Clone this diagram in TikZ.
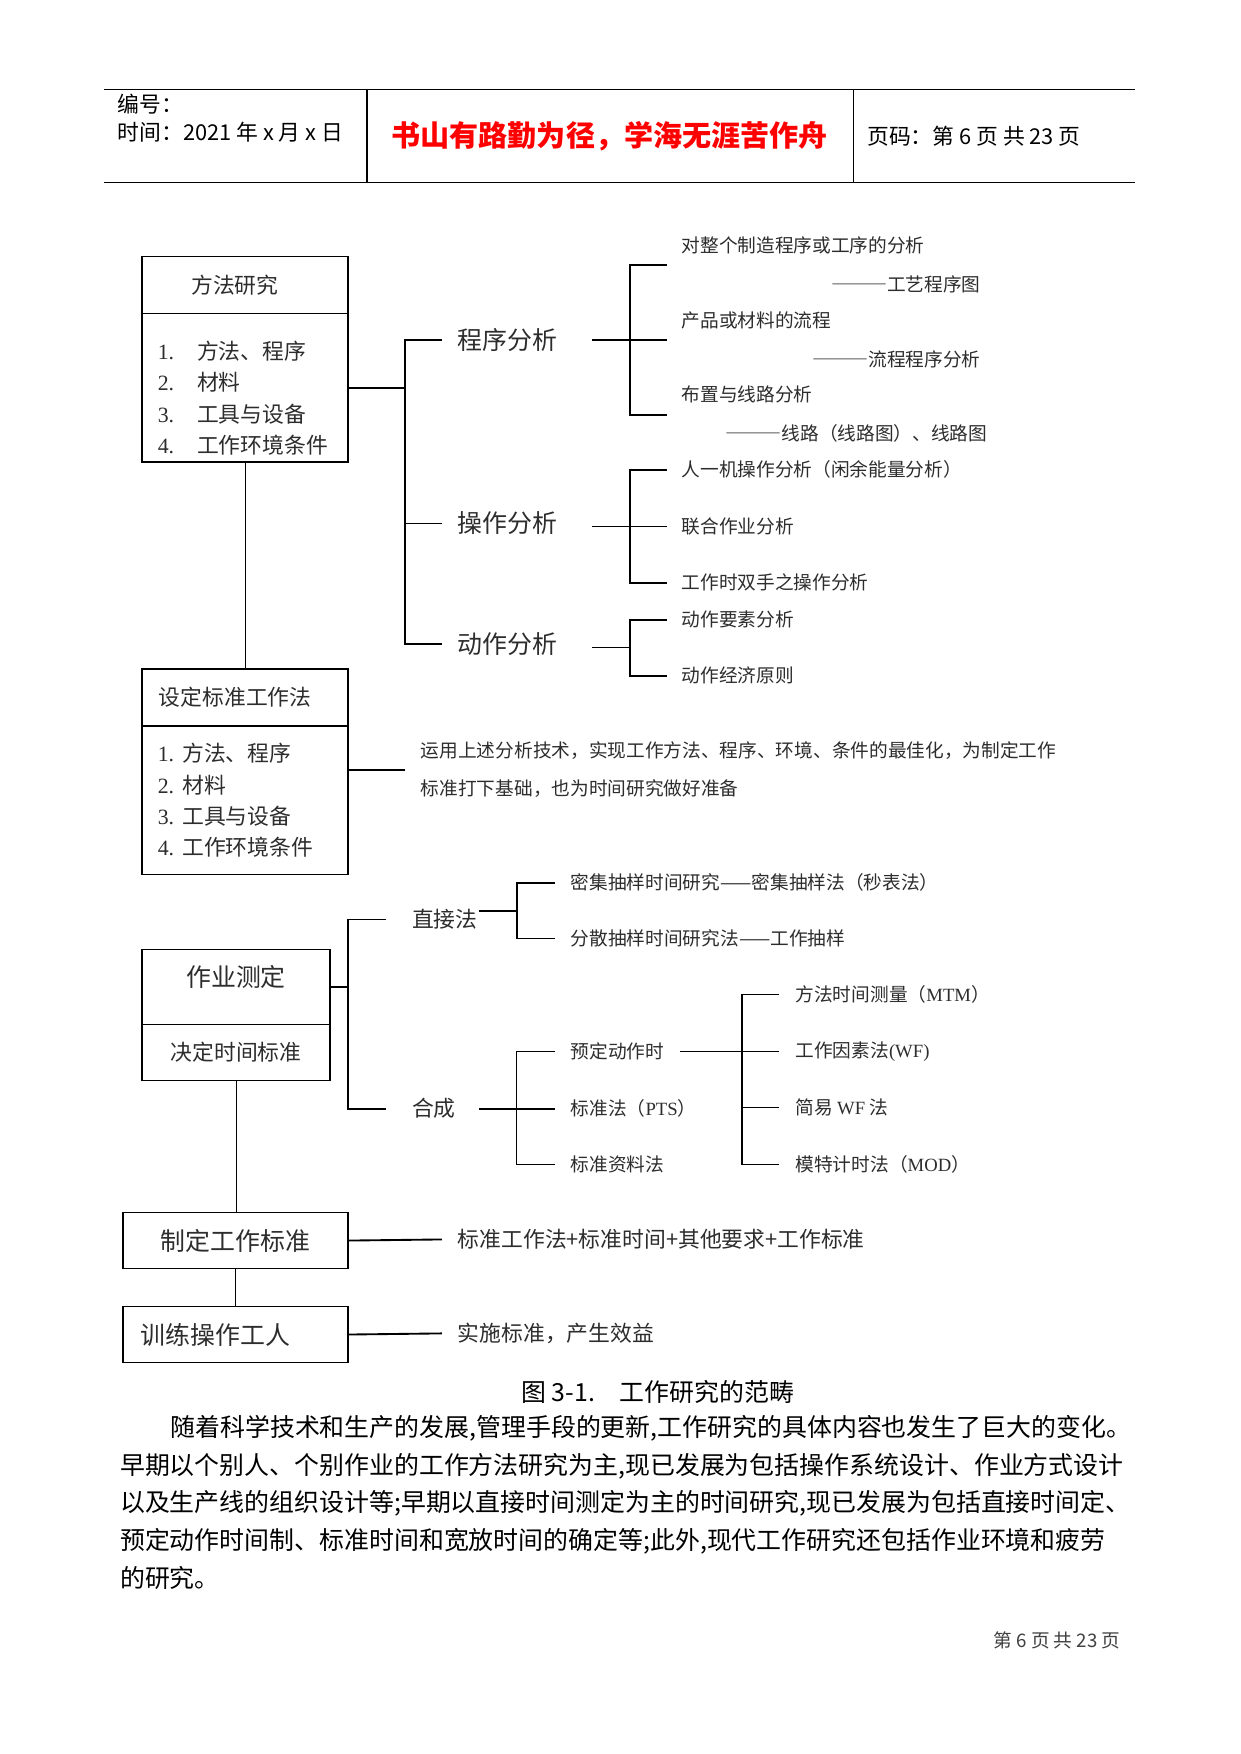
\documentclass[tikz,border=0pt]{standalone}
\usepackage{fontspec}
\setmainfont{Noto Sans CJK SC}
\newfontfamily\tnr{Liberation Serif}
\usetikzlibrary{calc}
\definecolor{titlered}{RGB}{255,0,0}
\definecolor{inkgray}{RGB}{45,45,45}
\newcommand\fnine{\fontsize{9pt}{11pt}\selectfont}
\newcommand\ften{\fontsize{10.5pt}{15pt}\selectfont}
\newcommand\ftwelve{\fontsize{12pt}{14pt}\selectfont}
\newcommand\ffourteen{\fontsize{14pt}{16pt}\selectfont}
\newcommand\itemno[2][18.9pt]{\makebox[#1][l]{\tnr #2}}
\newcommand\longdash{{\addfontfeatures{CharacterWidth=Full}———}}

\begin{document}
\begin{tikzpicture}[x=0.18936mm, y=-0.18936mm,
    box/.style={draw, line width=0.6pt, inner sep=0pt},
    conn/.style={line width=0.9pt},
    fine/.style={line width=0.45pt},
    lbl/.style={anchor=west, inner xsep=#1, inner ysep=0pt},
    lbl/.default=7.5pt]
    % page
    \fill[white] (0,0) rectangle (1109,1568);

    % header table
    \draw[fine] (93,80) -- (1015,80);
    \draw[fine] (93,163) -- (1015,163);
    \draw[line width=1pt] (328,80) -- (328,163);
    \draw[fine] (763,80) -- (763,163);
    \node[anchor=west, inner sep=0pt, font=\ften] (bianhao) at (105,93) {编号：};
    \node[anchor=west, inner sep=0pt, font=\ften] (shijian) at (105,118) {时间：2021 年 x 月 x 日};
    \node[text=titlered, font=\ffourteen\bfseries] (motto) at (545,122) {书山有路勤为径，学海无涯苦作舟};
    \node[anchor=west, inner sep=0pt, font=\ften] (yema) at (775,122) {页码：第 6 页 共 23 页};

    \begin{scope}[every node/.append style={text=inkgray}]
        % method study
        \node[box, minimum width=34.84mm, minimum height=9.66mm, font=\ften] (ms) at (219,254.5) {方法研究\hspace*{9.7pt}};
        \node[box, minimum width=34.84mm, minimum height=25.19mm, inner xsep=7.5pt, text width=84pt, align=left, font=\ften] (msl) at (219,346.5)
            {\rule{0pt}{19pt}\itemno{1.}方法、程序\\\itemno{2.}材料\\\itemno{3.}工具与设备\\\itemno{4.}工作环境条件};
        \coordinate (spA) at (362,0);
        \node[lbl, font=\ftwelve] (cx) at (395,304) {程序分析};
        \node[lbl, font=\ftwelve] (cz) at (395,468) {操作分析};
        \node[lbl, font=\ftwelve] (dz) at (395,576) {动作分析};
        \draw[conn] (cx.west) -| (spA |- dz.west) -- (dz.west);
        \draw[conn] (cz.west) -- (cz.west -| spA);
        \draw[conn] (msl.east) -- (msl.east -| spA);

        % process analysis
        \node[anchor=west, inner sep=0pt, font=\fnine] (cx1) at (609,219) {对整个制造程序或工序的分析};
        \node[anchor=east, inner sep=0pt, font=\fnine] (cx1d) at (877,254) {\longdash 工艺程序图};
        \node[anchor=west, inner sep=0pt, font=\fnine] (cx2) at (609,286) {产品或材料的流程};
        \node[anchor=east, inner sep=0pt, font=\fnine] (cx2d) at (877,321) {\longdash 流程程序分析};
        \node[anchor=west, inner sep=0pt, font=\fnine] (cx3) at (609,353) {布置与线路分析};
        \node[anchor=east, inner sep=0pt, font=\fnine] (cx3d) at (883,387) {\longdash 线路（线路图）、线路图};
        \coordinate (cxa) at (596,237);
        \coordinate (cxb) at (596,304);
        \coordinate (cxc) at (596,371);
        \draw[conn] (cxa) -- ++(-33,0) |- (cxc);
        \draw[conn] (cxb) -- ++(-67,0);

        % operation analysis
        \node[lbl=7pt, font=\fnine] (cz1) at (596,420) {人一机操作分析（闲余能量分析）};
        \node[lbl=7pt, font=\fnine] (cz2) at (596,471) {联合作业分析};
        \node[lbl=7pt, font=\fnine] (cz3) at (596,521) {工作时双手之操作分析};
        \draw[conn] (cz1.west) -- ++(-33,0) |- (cz3.west);
        \draw[fine] (cz2.west) -- ++(-67,0);

        % motion analysis
        \node[lbl=7pt, font=\fnine] (dz1) at (596,554) {动作要素分析};
        \node[lbl=7pt, font=\fnine] (dz2) at (596,604) {动作经济原则};
        \draw[conn] (dz1.west) -- ++(-33,0) |- (dz2.west);
        \draw[fine] ($(dz1.west)!.5!(dz2.west)$) ++(-33,0) -- ++(-34,0);

        % standard method
        \node[box, minimum width=34.84mm, minimum height=9.66mm, inner xsep=8pt, text width=83pt, align=left, font=\ften] (sd) at (219,623.5) {设定标准工作法};
        \node[box, minimum width=34.84mm, minimum height=25.19mm, inner xsep=7.5pt, text width=84pt, align=left, font=\ften] (sdl) at (219,715.5)
            {\itemno[11.8pt]{1.}方法、程序\\\itemno[11.8pt]{2.}材料\\\itemno[11.8pt]{3.}工具与设备\\\itemno[11.8pt]{4.}工作环境条件};
        \draw[fine] (msl.south) -- (sd.north);
        \node[lbl, align=left, font=\fontsize{9pt}{18.3pt}\selectfont] (yy) at (362,688)
            {运用上述分析技术，实现工作方法、程序、环境、条件的最佳化，为制定工作\\标准打下基础，也为时间研究做好准备};
        \draw[conn] (yy.west -| sdl.east) -- (yy.west);

        % work measurement
        \node[box, minimum width=31.81mm, minimum height=12.69mm, text depth=10.7pt, font=\ftwelve] (zy) at (211,882.5) {作业测定};
        \node[box, minimum width=31.81mm, minimum height=9.47mm, font=\ften] (jd) at (211,941) {决定时间标准};
        \coordinate (spB) at (311,0);
        \node[lbl=12.4pt, font=\ften] (zj) at (345,822) {直接法};
        \node[lbl=12.4pt, font=\ften] (hc) at (345,991) {合成};
        \draw[conn] (zj.west) -| (spB |- hc.west) -- (hc.west);
        \draw[conn] (zy.east) -- (zy.east -| spB);

        % direct methods
        \node[lbl, font=\fnine] (zj1) at (496,789) {密集抽样时间研究——密集抽样法（秒表法）};
        \node[lbl, font=\fnine] (zj2) at (496,839) {分散抽样时间研究法——工作抽样};
        \draw[conn] (zj1.west) -- ++(-34,0) |- (zj2.west);
        \draw[conn] ($(zj1.west)!.5!(zj2.west)$) ++(-34,0) -- ++(-34,0);

        % synthesis
        \node[lbl, font=\fnine] (hc1) at (496,940) {预定动作时};
        \node[lbl, font=\fnine] (hc2) at (496,991) {标准法（{\tnr PTS}）};
        \node[lbl, font=\fnine] (hc3) at (496,1041) {标准资料法};
        \draw[fine] (hc1.west) -- ++(-34,0) |- (hc3.west);
        \draw[conn] (hc2.west) -- ++(-68,0);

        % predetermined time systems
        \node[lbl=8pt, font=\fnine] (yd1) at (696,889) {方法时间测量（{\tnr MTM}）};
        \node[lbl=8pt, font=\fnine] (yd2) at (696,940) {工作因素法{\tnr (WF)}};
        \node[lbl=8pt, font=\fnine] (yd3) at (696,990) {简易 {\tnr WF} 法};
        \node[lbl=8pt, font=\fnine] (yd4) at (696,1041) {模特计时法（{\tnr MOD}）};
        \draw[conn] (yd1.west) -- ++(-33,0) |- (yd4.west);
        \draw[fine] (yd3.west) -- ++(-33,0);
        \draw[fine] (yd2.west) -- (yd2.west -| hc1.east);

        % standards and training
        \node[box, minimum width=38.06mm, minimum height=9.47mm, font=\ftwelve] (zd) at (210.5,1109) {制定工作标准};
        \node[box, minimum width=38.06mm, minimum height=9.47mm, inner xsep=8.6pt, text width=91.1pt, align=left, font=\ftwelve] (xl) at (210.5,1193) {训练操作工人};
        \draw[fine] (jd.south) -- (jd.south |- zd.north);
        \draw[fine] (zd.south) -- (xl.north);
        \node[lbl, font=\ften] (zb) at (395,1108) {标准工作法+标准时间+其他要求+工作标准};
        \node[lbl, font=\ften] (ss) at (395,1192) {实施标准，产生效益};
        \draw[conn] (zd.east) -- (zb.west);
        \draw[conn] (xl.east) -- (ss.west);
    \end{scope}

    % caption and text
    \node[font=\ftwelve] (fig) at (588,1244) {图 3-1.\quad 工作研究的范畴};
    \foreach \y/\x/\t [count=\i] in {
        1277/152/{随着科学技术和生产的发展,管理手段的更新,工作研究的具体内容也发生了巨大的变化。},
        1311/107/{早期以个别人、个别作业的工作方法研究为主,现已发展为包括操作系统设计、作业方式设计},
        1344/107/{以及生产线的组织设计等;早期以直接时间测定为主的时间研究,现已发展为包括直接时间定、},
        1378/107/{预定动作时间制、标准时间和宽放时间的确定等;此外,现代工作研究还包括作业环境和疲劳},
        1411/107/{的研究。}} {
        \node[anchor=west, inner sep=0pt, font=\ftwelve] (para\i) at (\x,\y) {\t};
    }
    \node[anchor=east, inner sep=0pt, font=\fnine, text=black!75] (foot) at (1002,1466) {第 6 页 共 23 页};
\end{tikzpicture}
\end{document}
